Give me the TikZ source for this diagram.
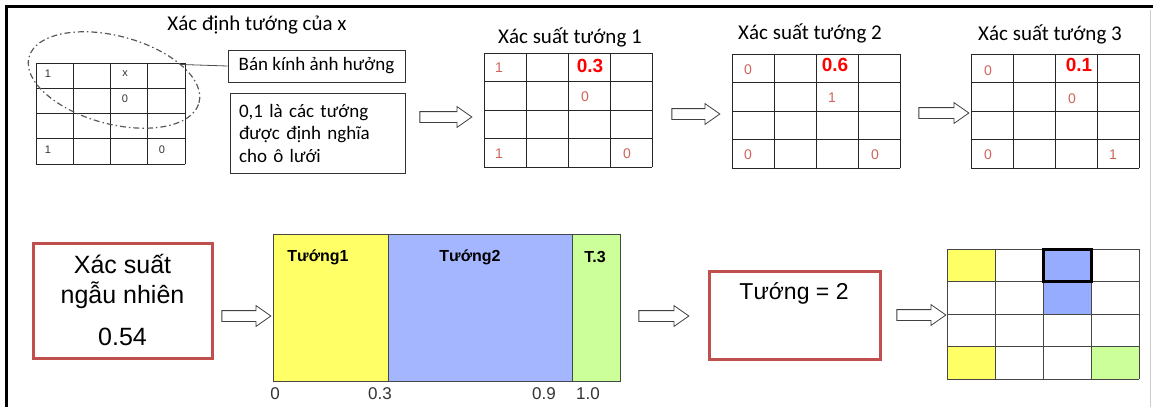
\documentclass[tikz,border=0pt]{standalone}
\usepackage{fontspec}
\setmainfont{Carlito}
\newfontfamily\arialfont{Liberation Sans}
\usetikzlibrary{shapes.geometric,shapes.arrows}
\definecolor{boxred}{RGB}{192,80,77}
\definecolor{numred}{RGB}{205,100,90}
\definecolor{barYellow}{RGB}{255,255,102}
\definecolor{barBlue}{RGB}{164,182,255}
\definecolor{cellBlue}{RGB}{150,172,255}
\definecolor{barGreen}{RGB}{204,255,153}
\definecolor{lineGray}{RGB}{70,70,70}
\tikzset{
	gridline/.style={line width=0.9pt,black!85},
	title/.style={font=\fontsize{21}{23}\selectfont},
	note/.style={draw,line width=0.8pt,black!80,text=black,font=\fontsize{19}{22.5}\selectfont},
	smallnum/.style={font=\arialfont\fontsize{11}{11}\selectfont,text=black!80},
	num/.style={font=\arialfont\fontsize{14}{14}\selectfont,text=numred},
	bignum/.style={font=\arialfont\bfseries\fontsize{19}{19}\selectfont,text=red},
	hollow/.style={single arrow,draw,line width=0.8pt,black!75,fill=white,inner xsep=0pt,inner ysep=5pt,
		minimum height=#1,single arrow head extend=5pt,single arrow tip angle=70},
	redbox/.style={draw=boxred,line width=3pt,inner sep=0pt},
	big/.style={font=\arialfont\fontsize{25}{30}\selectfont},
	barlabel/.style={font=\arialfont\bfseries\fontsize{16}{16}\selectfont},
	axis/.style={font=\arialfont\fontsize{17}{17}\selectfont,text=black!80},
	seg/.style={draw=lineGray,line width=0.9pt,anchor=north west,inner sep=0pt}
}
\begin{document}
\begin{tikzpicture}[x=1pt,y=-1pt]
	\useasboundingbox (0,0) rectangle (1153,407);
	\draw[line width=3pt] (6.5,407) -- (6.5,6.5) -- (1153,6.5);
	\draw[line width=0.8pt,black!20] (1150,10) -- (1150,407);

	% grid of the unknown cell
	\node[title] (ttlx) at (257,25) {Xác định tướng của x};
	\begin{scope}[shift={(36,63)}]
		\foreach \i in {0,...,4}
			\draw[gridline] (37.25*\i,0) -- (37.25*\i,101) (0,25.25*\i) -- (149,25.25*\i);
		\node[smallnum] (xa) at (12,11) {1};
		\node[smallnum] (xb) at (89,11) {x};
		\node[smallnum] (xc) at (89,36) {0};
		\node[smallnum] (xd) at (12,87) {1};
		\node[smallnum] (xe) at (126,87) {0};
	\end{scope}
	\node[ellipse,draw,black!65,line width=1.2pt,dash pattern=on 6pt off 3pt on 1.5pt off 3pt,
		inner sep=0pt,minimum width=176pt,minimum height=88pt,rotate=-15] (zone) at (114,80) {};
	\node[note,minimum width=177pt,minimum height=32pt,inner sep=0pt] (radbox) at (316.5,66) {Bán kính ảnh hưởng};
	\node[note,minimum width=175pt,minimum height=80pt,inner xsep=9pt,text width=157pt,align=left] (defbox) at (317.5,133)
		{0,1 là các tướng\\được định nghĩa\\cho ô lưới};
	\draw[line width=0.8pt,black!70] (radbox.west) -- (zone.28);

	% probability grids
	\node[hollow=52pt] (arA) at (442,117) {};
	\node[title] (ttl1) at (570,37) {Xác suất tướng 1};
	\begin{scope}[shift={(484,53)}]
		\foreach \i in {0,...,4}
			\draw[gridline] (42*\i,0) -- (42*\i,114) (0,28.5*\i) -- (168,28.5*\i);
		\node[num] (pa) at (15,15) {1};
		\node[bignum] (pb) at (106,13) {0.3};
		\node[num] (pc) at (101,44) {0};
		\node[num] (pd) at (15,101) {1};
		\node[num] (pe) at (143,101) {0};
	\end{scope}
	\node[hollow=48pt] (arB) at (692,114) {};
	\node[title] (ttl2) at (810,33) {Xác suất tướng 2};
	\begin{scope}[shift={(732,54)}]
		\foreach \i in {0,...,4}
			\draw[gridline] (42*\i,0) -- (42*\i,114) (0,28.5*\i) -- (168,28.5*\i);
		\node[num] (qa) at (16,16) {0};
		\node[bignum] (qb) at (103,11) {0.6};
		\node[num] (qc) at (100,44) {1};
		\node[num] (qd) at (16,101) {0};
		\node[num] (qe) at (143,101) {0};
	\end{scope}
	\node[hollow=50pt] (arC) at (940,113) {};
	\node[title] (ttl3) at (1050,34) {Xác suất tướng 3};
	\begin{scope}[shift={(971,54)}]
		\foreach \i in {0,...,4}
			\draw[gridline] (42*\i,0) -- (42*\i,114) (0,28.5*\i) -- (168,28.5*\i);
		\node[num] (ra) at (17,17) {0};
		\node[bignum] (rb) at (108,11) {0.1};
		\node[num] (rc) at (101,45) {0};
		\node[num] (rd) at (17,101) {0};
		\node[num] (re) at (142,101) {1};
	\end{scope}

	% random draw
	\node[redbox,big,minimum width=179pt,minimum height=115pt,align=center] (randbox) at (122.5,300.5)
		{Xác suất\\ngẫu nhiên\\[12pt]0.54};
	\node[hollow=49pt] (arD) at (242.5,316) {};
	\node[seg,fill=barYellow,minimum width=115pt,minimum height=147pt] (seg1) at (273,234) {};
	\node[seg,fill=barBlue,minimum width=184pt,minimum height=147pt] (seg2) at (388,234) {};
	\node[seg,fill=barGreen,minimum width=48pt,minimum height=147pt] (seg3) at (572,234) {};
	\node[barlabel] (lab1) at (318,257) {Tướng1};
	\node[barlabel] (lab2) at (470,257) {Tướng2};
	\node[barlabel] (lab3) at (595,257) {T.3};
	\node[axis] (ax0) at (275,394) {0};
	\node[axis] (ax3) at (380,394) {0.3};
	\node[axis] (ax9) at (544,394) {0.9};
	\node[axis] (ax10) at (588,394) {1.0};
	\node[hollow=50pt] (arE) at (660,316) {};
	\node[redbox,minimum width=171pt,minimum height=88pt] (resbox) at (794.5,315) {};
	\node[big,font=\arialfont\fontsize{23}{23}\selectfont] (restext) at (794,293) {Tướng = 2};
	\node[hollow=49pt] (arF) at (917.5,315) {};

	% resulting map
	\begin{scope}[shift={(947,249)}]
		\fill[barYellow] (0,0) rectangle (48,32.5) (0,97.5) rectangle (48,130);
		\fill[cellBlue] (96,0) rectangle (144,65);
		\fill[barGreen] (144,97.5) rectangle (192,130);
		\foreach \i in {0,...,4}
			\draw[line width=0.9pt,lineGray] (48*\i,0) -- (48*\i,130) (0,32.5*\i) -- (192,32.5*\i);
		\draw[line width=3pt] (96,0) rectangle (144,32.5);
	\end{scope}
\end{tikzpicture}
\end{document}
